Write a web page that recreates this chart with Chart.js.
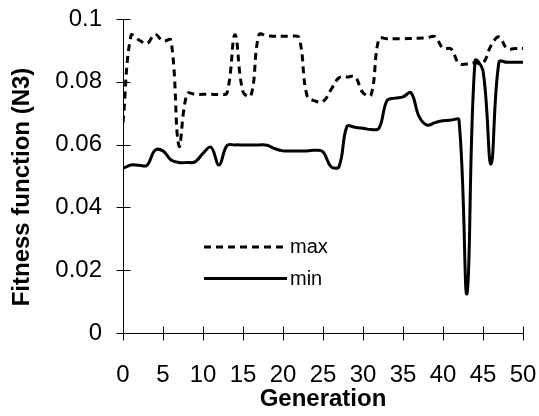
<!DOCTYPE html>
<html>
<head>
<meta charset="utf-8">
<title>Fitness function (N3)</title>
<script src="https://cdn.jsdelivr.net/npm/chart.js@4/dist/chart.umd.min.js"></script>
<style>
  html, body { margin: 0; padding: 0; background: #ffffff; }
  #chart { display: block; }
</style>
</head>
<body>
<canvas id="chart" width="539" height="416"></canvas>
<script>
// Generation numbers (x values)
const generations = [0, 1, 2, 3, 4, 5, 6, 7, 8, 9, 10, 11, 12, 13, 14, 15, 16, 17, 18, 19, 20,
  21, 22, 23, 24, 25, 26, 27, 28, 29, 30, 31, 32, 33, 34, 35, 36, 37, 38, 39, 40,
  41, 42, 43, 44, 45, 46, 47, 48, 49, 50];

// Best (max) fitness per generation
const maxFitness = [0.0670, 0.0948, 0.0933, 0.0922, 0.0951, 0.0930, 0.0932, 0.0596, 0.0762, 0.0760,
  0.0760, 0.0760, 0.0760, 0.0765, 0.0950, 0.0768, 0.0756, 0.0950, 0.0946, 0.0945,
  0.0945, 0.0945, 0.0941, 0.0756, 0.0739, 0.0737, 0.0775, 0.0813, 0.0815, 0.0816,
  0.0765, 0.0758, 0.0937, 0.0937, 0.0937, 0.0937, 0.0938, 0.0939, 0.0940, 0.0944,
  0.0907, 0.0905, 0.0858, 0.0857, 0.0861, 0.0859, 0.0915, 0.0943, 0.0906, 0.0906,
  0.0906];

// Worst (min) fitness per generation
const minFitness = [0.0524, 0.0535, 0.0534, 0.0534, 0.0582, 0.0580, 0.0551, 0.0543, 0.0543, 0.0545,
  0.0572, 0.0592, 0.0535, 0.0597, 0.0599, 0.0599, 0.0599, 0.0599, 0.0598, 0.0587,
  0.0580, 0.0580, 0.0580, 0.0580, 0.0582, 0.0577, 0.0530, 0.0530, 0.0658, 0.0655,
  0.0652, 0.0648, 0.0652, 0.0740, 0.0748, 0.0752, 0.0765, 0.0690, 0.0662, 0.0670,
  0.0676, 0.0678, 0.0678, 0.0126, 0.0866, 0.0835, 0.0538, 0.0863, 0.0862, 0.0862,
  0.0862];

const seriesNames = ['max', 'min'];
const xTickLabels = ['0', '5', '10', '15', '20', '25', '30', '35', '40', '45', '50'];
const yTickLabels = ['0', '0.02', '0.04', '0.06', '0.08', '0.1'];
const xTitle = 'Generation';
const yTitle = 'Fitness function (N3)';

const FONT = '"Liberation Sans", Arial, Helvetica, sans-serif';
const DASH = [7, 5];

const toPoints = (vals) => generations.map((g, i) => ({ x: g, y: vals[i] }));

// Axis lines with ticks crossing both sides of each axis
const axesPlugin = {
  id: 'crossAxes',
  beforeDatasetsDraw(chart) {
    const { ctx, chartArea: a, scales: { x, y } } = chart;
    const t = 7;
    ctx.save();
    ctx.strokeStyle = '#000';
    ctx.lineWidth = 1;
    ctx.beginPath();
    const ax = Math.round(a.left) + 0.5;
    const ay = Math.round(a.bottom) + 0.5;
    ctx.moveTo(ax, Math.round(a.top));
    ctx.lineTo(ax, ay);
    ctx.moveTo(ax, ay);
    ctx.lineTo(Math.round(a.right) + 1, ay);
    x.ticks.forEach(tk => {
      const px = Math.round(x.getPixelForValue(tk.value)) + 0.5;
      ctx.moveTo(px, ay - t);
      ctx.lineTo(px, ay + t);
    });
    y.ticks.forEach(tk => {
      const py = Math.round(y.getPixelForValue(tk.value)) + 0.5;
      ctx.moveTo(ax - t, py);
      ctx.lineTo(ax + t, py);
    });
    ctx.stroke();
    ctx.restore();
  },
  afterDraw(chart) {
    const { ctx, chartArea: a } = chart;
    ctx.save();
    // rotated y-axis title
    ctx.fillStyle = '#000';
    ctx.font = 'bold 24px ' + FONT;
    ctx.textAlign = 'center';
    ctx.textBaseline = 'middle';
    ctx.translate(22, (a.top + a.bottom) / 2 + 11);
    ctx.rotate(-Math.PI / 2);
    ctx.fillText(yTitle, 0, 0);
    ctx.restore();

    // legend inside the plot area
    ctx.save();
    const lx0 = a.left + 81, lx1 = a.left + 164;
    const rows = [{ y: a.top + 228, dash: DASH }, { y: a.top + 259.5, dash: [] }];
    ctx.strokeStyle = '#000';
    ctx.lineWidth = 3;
    ctx.lineCap = 'butt';
    ctx.fillStyle = '#000';
    ctx.font = '20px ' + FONT;
    ctx.textAlign = 'left';
    ctx.textBaseline = 'alphabetic';
    rows.forEach((r, i) => {
      ctx.setLineDash(r.dash);
      ctx.beginPath();
      ctx.moveTo(lx0, r.y);
      ctx.lineTo(lx1, r.y);
      ctx.stroke();
      ctx.fillText(seriesNames[i], lx1 + 3, r.y + 6);
    });
    ctx.restore();
  }
};

// invisible tick marks reserve the gap between axis and labels
const hiddenGrid = (len) => ({
  display: true,
  drawOnChartArea: false,
  drawTicks: true,
  tickLength: len,
  color: 'rgba(0,0,0,0)'
});

new Chart(document.getElementById('chart'), {
  type: 'line',
  data: {
    datasets: [
      {
        label: seriesNames[0],
        data: toPoints(maxFitness),
        borderColor: '#000',
        borderWidth: 3,
        borderDash: DASH,
        pointRadius: 0,
        tension: 0.4,
        fill: false
      },
      {
        label: seriesNames[1],
        data: toPoints(minFitness),
        borderColor: '#000',
        borderWidth: 3,
        pointRadius: 0,
        tension: 0.4,
        fill: false
      }
    ]
  },
  options: {
    responsive: false,
    animation: false,
    devicePixelRatio: 1,
    layout: { padding: { left: 0, right: 16, top: 19, bottom: 0 } },
    plugins: {
      legend: { display: false },
      tooltip: { enabled: false }
    },
    scales: {
      x: {
        type: 'linear',
        min: 0,
        max: 50,
        grid: hiddenGrid(28),
        border: { display: false },
        ticks: {
          stepSize: 5,
          padding: 0,
          color: '#000',
          font: { family: FONT, size: 24 },
          maxRotation: 0,
          autoSkip: false,
          callback: (v) => xTickLabels[Math.round(v / 5)]
        },
        title: {
          display: true,
          text: xTitle,
          color: '#000',
          font: { family: FONT, size: 24, weight: 'bold' },
          padding: { top: 0, bottom: 2 }
        },
        afterFit: (s) => { s.height = 83; }
      },
      y: {
        type: 'linear',
        min: 0,
        max: 0.1,
        grid: hiddenGrid(21),
        border: { display: false },
        ticks: {
          stepSize: 0.02,
          padding: 0,
          color: '#000',
          font: { family: FONT, size: 24 },
          callback: (v) => yTickLabels[Math.round(v / 0.02)]
        },
        afterFit: (s) => { s.width = 123; }
      }
    }
  },
  plugins: [axesPlugin]
});
</script>
</body>
</html>
